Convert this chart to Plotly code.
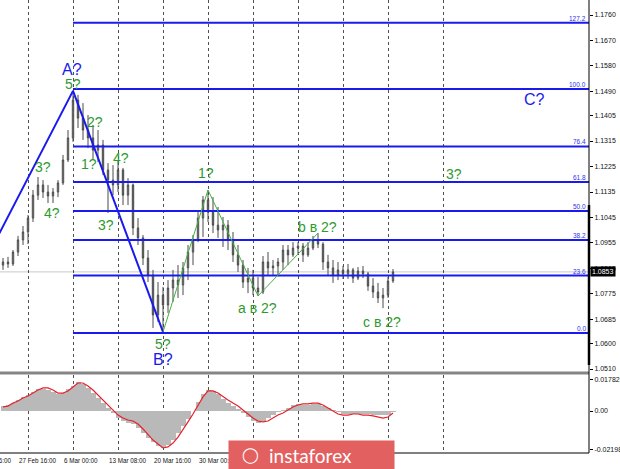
import plotly.graph_objects as go

# ---------------- data (EUR/USD, H4, sampled) ----------------
bar_index = list(range(79))

opens = [1.0877,1.0888,1.0881,1.0923,1.0966,1.0994,1.1043,1.1124,1.1160,1.1135,
         1.1121,1.1135,1.1167,1.1248,1.1326,1.1460,1.1396,1.1354,1.1326,1.1283,
         1.1301,1.1213,1.1177,1.1160,1.1213,1.1124,1.1160,1.1008,1.0973,1.0902,
         1.0842,1.0701,1.0771,1.0736,1.0796,1.0824,1.0807,1.0867,1.0923,1.0966,
         1.1043,1.1107,1.1064,1.1018,1.1001,1.1018,1.0966,1.0913,1.0877,1.0817,
         1.0831,1.0796,1.0782,1.0888,1.0867,1.0874,1.0888,1.0930,1.0913,1.0937,
         1.0944,1.0913,1.0937,1.0966,1.0951,1.0888,1.0867,1.0842,1.0860,1.0846,
         1.0860,1.0831,1.0856,1.0846,1.0803,1.0782,1.0761,1.0771,1.0821]
highs = [1.0902,1.0906,1.0930,1.0980,1.1015,1.1054,1.1142,1.1188,1.1177,1.1160,
         1.1149,1.1177,1.1266,1.1354,1.1492,1.1478,1.1449,1.1407,1.1372,1.1354,
         1.1319,1.1237,1.1230,1.1248,1.1220,1.1184,1.1165,1.1043,1.0983,1.0930,
         1.0860,1.0817,1.0800,1.0824,1.0860,1.0877,1.0888,1.0948,1.0983,1.1064,
         1.1121,1.1142,1.1117,1.1082,1.1047,1.1036,1.0994,1.0948,1.0895,1.0867,
         1.0860,1.0835,1.0909,1.0923,1.0895,1.0902,1.0948,1.0948,1.0958,1.0958,
         1.0955,1.0958,1.0980,1.0990,1.0958,1.0913,1.0895,1.0888,1.0874,1.0881,
         1.0867,1.0870,1.0874,1.0853,1.0831,1.0814,1.0796,1.0835,1.0863]
lows = [1.0860,1.0867,1.0874,1.0909,1.0948,1.0951,1.1029,1.1107,1.1114,1.1096,
        1.1096,1.1117,1.1160,1.1241,1.1312,1.1361,1.1319,1.1290,1.1248,1.1241,
        1.1195,1.1061,1.1124,1.1135,1.1089,1.1089,1.0983,1.0948,1.0877,1.0817,
        1.0655,1.0676,1.0641,1.0708,1.0747,1.0761,1.0771,1.0824,1.0877,1.0958,
        1.0976,1.1029,1.0990,1.0973,1.0941,1.0930,1.0888,1.0853,1.0796,1.0778,
        1.0771,1.0768,1.0775,1.0842,1.0842,1.0838,1.0860,1.0877,1.0906,1.0916,
        1.0888,1.0906,1.0930,1.0937,1.0860,1.0842,1.0814,1.0824,1.0828,1.0828,
        1.0814,1.0824,1.0831,1.0786,1.0761,1.0743,1.0725,1.0761,1.0814]
closes = [1.0888,1.0881,1.0923,1.0966,1.0994,1.1043,1.1124,1.1160,1.1135,1.1121,
          1.1135,1.1167,1.1248,1.1326,1.1460,1.1396,1.1354,1.1326,1.1283,1.1301,
          1.1213,1.1177,1.1160,1.1213,1.1124,1.1160,1.1008,1.0973,1.0902,1.0842,
          1.0701,1.0771,1.0736,1.0796,1.0824,1.0807,1.0867,1.0923,1.0966,1.1043,
          1.1107,1.1064,1.1018,1.1001,1.1018,1.0966,1.0913,1.0877,1.0817,1.0831,
          1.0796,1.0782,1.0888,1.0867,1.0874,1.0888,1.0930,1.0913,1.0937,1.0944,
          1.0913,1.0937,1.0966,1.0951,1.0888,1.0867,1.0842,1.0860,1.0846,1.0860,
          1.0831,1.0856,1.0846,1.0803,1.0782,1.0761,1.0771,1.0821,1.0853]

macd_hist = [0.0028,0.0034,0.0045,0.0062,0.0080,0.0091,0.0108,0.0125,0.0125,0.0119,
             0.0108,0.0097,0.0102,0.0125,0.0142,0.0165,0.0153,0.0131,0.0102,0.0074,
             0.0045,0.0017,-0.0011,-0.0040,-0.0057,-0.0068,-0.0074,-0.0097,-0.0125,-0.0153,
             -0.0176,-0.0199,-0.0210,-0.0193,-0.0165,-0.0125,-0.0085,-0.0045,0.0000,0.0051,
             0.0097,0.0119,0.0114,0.0097,0.0068,0.0045,0.0028,0.0011,-0.0011,-0.0034,
             -0.0057,-0.0068,-0.0057,-0.0040,-0.0023,-0.0006,0.0006,0.0017,0.0034,0.0040,
             0.0034,0.0034,0.0040,0.0040,0.0028,0.0017,0.0006,-0.0008,-0.0015,-0.0017,
             -0.0017,-0.0017,-0.0017,-0.0017,-0.0020,-0.0023,-0.0025,-0.0023,-0.0008]
macd_signal = [0.0023,0.0028,0.0045,0.0057,0.0074,0.0085,0.0102,0.0119,0.0131,0.0131,
               0.0119,0.0102,0.0102,0.0114,0.0136,0.0159,0.0159,0.0142,0.0119,0.0091,
               0.0062,0.0034,0.0006,-0.0023,-0.0040,-0.0051,-0.0057,-0.0074,-0.0102,-0.0136,
               -0.0165,-0.0187,-0.0210,-0.0204,-0.0182,-0.0148,-0.0108,-0.0062,-0.0017,0.0034,
               0.0080,0.0114,0.0114,0.0102,0.0080,0.0062,0.0045,0.0028,0.0006,-0.0017,
               -0.0040,-0.0057,-0.0062,-0.0057,-0.0040,-0.0023,-0.0011,0.0006,0.0023,0.0034,
               0.0040,0.0040,0.0045,0.0045,0.0034,0.0017,0.0000,-0.0017,-0.0023,-0.0023,
               -0.0017,-0.0017,-0.0023,-0.0023,-0.0028,-0.0034,-0.0040,-0.0034,-0.0011]

fib_names = ["0.0", "23.6", "38.2", "50.0", "61.8", "76.4", "100.0", "127.2"]
fib_prices = [1.0637, 1.0840, 1.0966, 1.1068, 1.1170, 1.1296, 1.1499, 1.1733]
fib_start = 14

wave_big_x = [-4, 14, 32]
wave_big_y = [1.0877, 1.1492, 1.0641]
wave_small_x = [32, 41, 51, 63]
wave_small_y = [1.0641, 1.1142, 1.0768, 1.0990]

green_labels = ["5?", "2?", "1?", "4?", "3?", "4?", "3?", "5?", "1?", "a в 2?", "b в 2?", "с в 2?", "3?"]
green_x = [14, 18.4, 17.2, 23.6, 8, 9.8, 20.6, 32, 40.6, 50.8, 62.8, 75.8, 90.2]
green_y = [1.1516, 1.1382, 1.1234, 1.1255, 1.1223, 1.1061, 1.1018, 1.0598, 1.1202, 1.0725, 1.1011, 1.0676, 1.1199]
blue_labels = ["A?", "B?", "C?"]
blue_x = [13.8, 32, 106.2]
blue_y = [1.1569, 1.0542, 1.1463]

price_ticks = [1.1760, 1.1670, 1.1580, 1.1490, 1.1405, 1.1315, 1.1225, 1.1135,
               1.1045, 1.0955, 1.0865, 1.0775, 1.0685, 1.0600, 1.0510]
macd_ticks = [0.01782, 0.0, -0.02198]
macd_tick_text = ["0.01782", "0.00", "-0.02198"]

# date labels visible in the reference (later ones lie under the watermark)
date_ticks = [-4, 5, 14, 23, 32, 41]
date_labels = ["20 Feb 16:00", "27 Feb 16:00", "6 Mar 00:00", "13 Mar 08:00",
               "20 Mar 16:00", "30 Mar 00:00"]
grid_ticks = [-4, 5, 14, 23, 32, 41, 50, 59, 68, 77, 88]
last_price = 1.0853

# ---------------- figure ----------------
W, H = 620, 469
ML, MR, MT, MB = 0, 31, 0, 16
PH = H - MT - MB          # 453
PW = W - ML - MR          # 589
XR = [-0.6, 117.2]
FONT = "Liberation Sans, Arial, sans-serif"
BLUE = "#1a1aee"
GREEN = "#2e9a2e"

def py(px):  # pixel row -> paper y
    return (PH - px) / PH

def px_of(xv):  # axis value -> paper x
    return (xv - XR[0]) / (XR[1] - XR[0])

fig = go.Figure()

fig.add_trace(go.Candlestick(
    x=bar_index, open=opens, high=highs, low=lows, close=closes,
    xaxis="x", yaxis="y", whiskerwidth=0,
    increasing=dict(line=dict(color="#4a4a4a", width=1), fillcolor="#b0b0b0"),
    decreasing=dict(line=dict(color="#4a4a4a", width=1), fillcolor="#7a7a7a"),
    showlegend=False, hoverinfo="skip"))

fx, fy = [], []
for p in fib_prices:
    fx += [fib_start, XR[1], None]
    fy += [p, p, None]
fig.add_trace(go.Scatter(x=fx, y=fy, mode="lines", line=dict(color=BLUE, width=2),
                         xaxis="x", yaxis="y", showlegend=False, hoverinfo="skip"))
fig.add_trace(go.Scatter(x=wave_big_x, y=wave_big_y, mode="lines",
                         line=dict(color=BLUE, width=2), xaxis="x", yaxis="y",
                         showlegend=False, hoverinfo="skip"))
fig.add_trace(go.Scatter(x=wave_small_x, y=wave_small_y, mode="lines",
                         line=dict(color="#46b046", width=1), xaxis="x", yaxis="y",
                         showlegend=False, hoverinfo="skip"))

fig.add_trace(go.Bar(x=bar_index, y=macd_hist, marker=dict(color="#b9b9b9", line=dict(width=0)),
                     width=1.0, xaxis="x2", yaxis="y2", showlegend=False, hoverinfo="skip"))
fig.add_trace(go.Scatter(x=bar_index, y=macd_signal, mode="lines",
                         line=dict(color="#e8202a", width=1.2), xaxis="x2", yaxis="y2",
                         showlegend=False, hoverinfo="skip"))

axis_common = dict(range=XR, showgrid=True, gridcolor="#505050", griddash="dot", gridwidth=1,
                   tickvals=grid_ticks, showticklabels=False, ticks="", zeroline=False,
                   showline=False, fixedrange=True)

fig.update_layout(
    width=W, height=H, margin=dict(l=ML, r=MR, t=MT, b=MB, autoexpand=False),
    paper_bgcolor="white", plot_bgcolor="white", bargap=0, boxgap=0.6,
    font=dict(family=FONT, size=7, color="black"),
    xaxis=dict(anchor="y", domain=[0, 1], rangeslider=dict(visible=False), **axis_common),
    xaxis2=dict(anchor="y2", domain=[0, 1], **axis_common),
    yaxis=dict(domain=[py(371), 1], range=[1.0503, 1.1813], side="right", anchor="x",
               tickvals=price_ticks, ticktext=[f"{v:.4f}" for v in price_ticks],
               ticks="outside", ticklen=3, tickcolor="black", showgrid=False,
               zeroline=False, fixedrange=True,
               tickfont=dict(size=7, family=FONT, color="#111")),
    yaxis2=dict(domain=[0, py(375)], range=[-0.02386, 0.02045], side="right", anchor="x2",
                tickvals=macd_ticks, ticktext=macd_tick_text, ticks="outside", ticklen=3,
                tickcolor="black", showgrid=False, zeroline=False, fixedrange=True,
                tickfont=dict(size=7, family=FONT, color="#111")),
)

shapes = [
    dict(type="line", xref="x", yref="y", x0=XR[0], x1=XR[1], y0=last_price, y1=last_price,
         line=dict(color="#c8c8c8", width=1), layer="below"),
    dict(type="rect", xref="paper", yref="paper", x0=0, x1=1, y0=py(374.5), y1=py(371.5),
         fillcolor="#858585", line=dict(width=0), layer="above"),
    dict(type="line", xref="paper", yref="paper", x0=0, x1=1, y0=0, y1=0,
         line=dict(color="black", width=1), layer="above"),
    dict(type="line", xref="paper", yref="paper", x0=1, x1=1, y0=0, y1=1,
         line=dict(color="black", width=1), layer="above"),
    dict(type="line", xref="paper", yref="paper", x0=1, x1=1, y0=py(365), y1=py(205),
         line=dict(color="black", width=2.5), layer="above"),
]
fig.update_layout(shapes=shapes)

ann = []
for name, p in zip(fib_names, fib_prices):
    ann.append(dict(x=XR[1], y=p, xref="x", yref="y", text=name, showarrow=False,
                    xanchor="right", yanchor="bottom", xshift=-1, yshift=-1,
                    font=dict(size=6.5, color="#3030ee", family=FONT)))
for t, x, y in zip(green_labels, green_x, green_y):
    ann.append(dict(x=x, y=y, xref="x", yref="y", text=t, showarrow=False,
                    xanchor="center", yanchor="middle",
                    font=dict(size=14, color=GREEN, family=FONT)))
for t, x, y in zip(blue_labels, blue_x, blue_y):
    ann.append(dict(x=x, y=y, xref="x", yref="y", text=t, showarrow=False,
                    xanchor="center", yanchor="middle",
                    font=dict(size=16, color=BLUE, family=FONT)))
for t, x in zip(date_labels, date_ticks):
    ann.append(dict(x=px_of(x), y=0, xref="paper", yref="paper", text=t, showarrow=False,
                    xanchor="left", yanchor="top", xshift=-11, yshift=-2,
                    font=dict(size=6.3, color="#111", family=FONT)))
ann.append(dict(x=1, y=last_price, xref="paper", yref="y", text=f"{last_price:.4f}",
                showarrow=False, xanchor="left", yanchor="middle", xshift=1,
                bgcolor="black", borderpad=1, font=dict(size=7, color="white", family=FONT)))
# watermark (opaque box drawn over the axis labels)
ann.append(dict(x=228 / PW, y=py(440), xref="paper", yref="paper", text="",
                showarrow=False, xanchor="left", yanchor="top", width=165, height=29,
                bgcolor="#e2605f", borderpad=0, font=dict(size=1)))
ann.append(dict(x=250 / PW, y=py(455), xref="paper", yref="paper", text="◯",
                showarrow=False, xanchor="center", yanchor="middle",
                font=dict(size=15, color="white", family="DejaVu Sans")))
ann.append(dict(x=310 / PW, y=py(455), xref="paper", yref="paper", text="instaforex",
                showarrow=False, xanchor="center", yanchor="middle",
                font=dict(size=19, color="white", family="Lato, Open Sans, sans-serif")))
fig.update_layout(annotations=ann)

fig.write_html("out.html", config={"displayModeBar": False, "staticPlot": True},
               post_script="document.body.style.margin='0';document.body.style.overflow='hidden';")
